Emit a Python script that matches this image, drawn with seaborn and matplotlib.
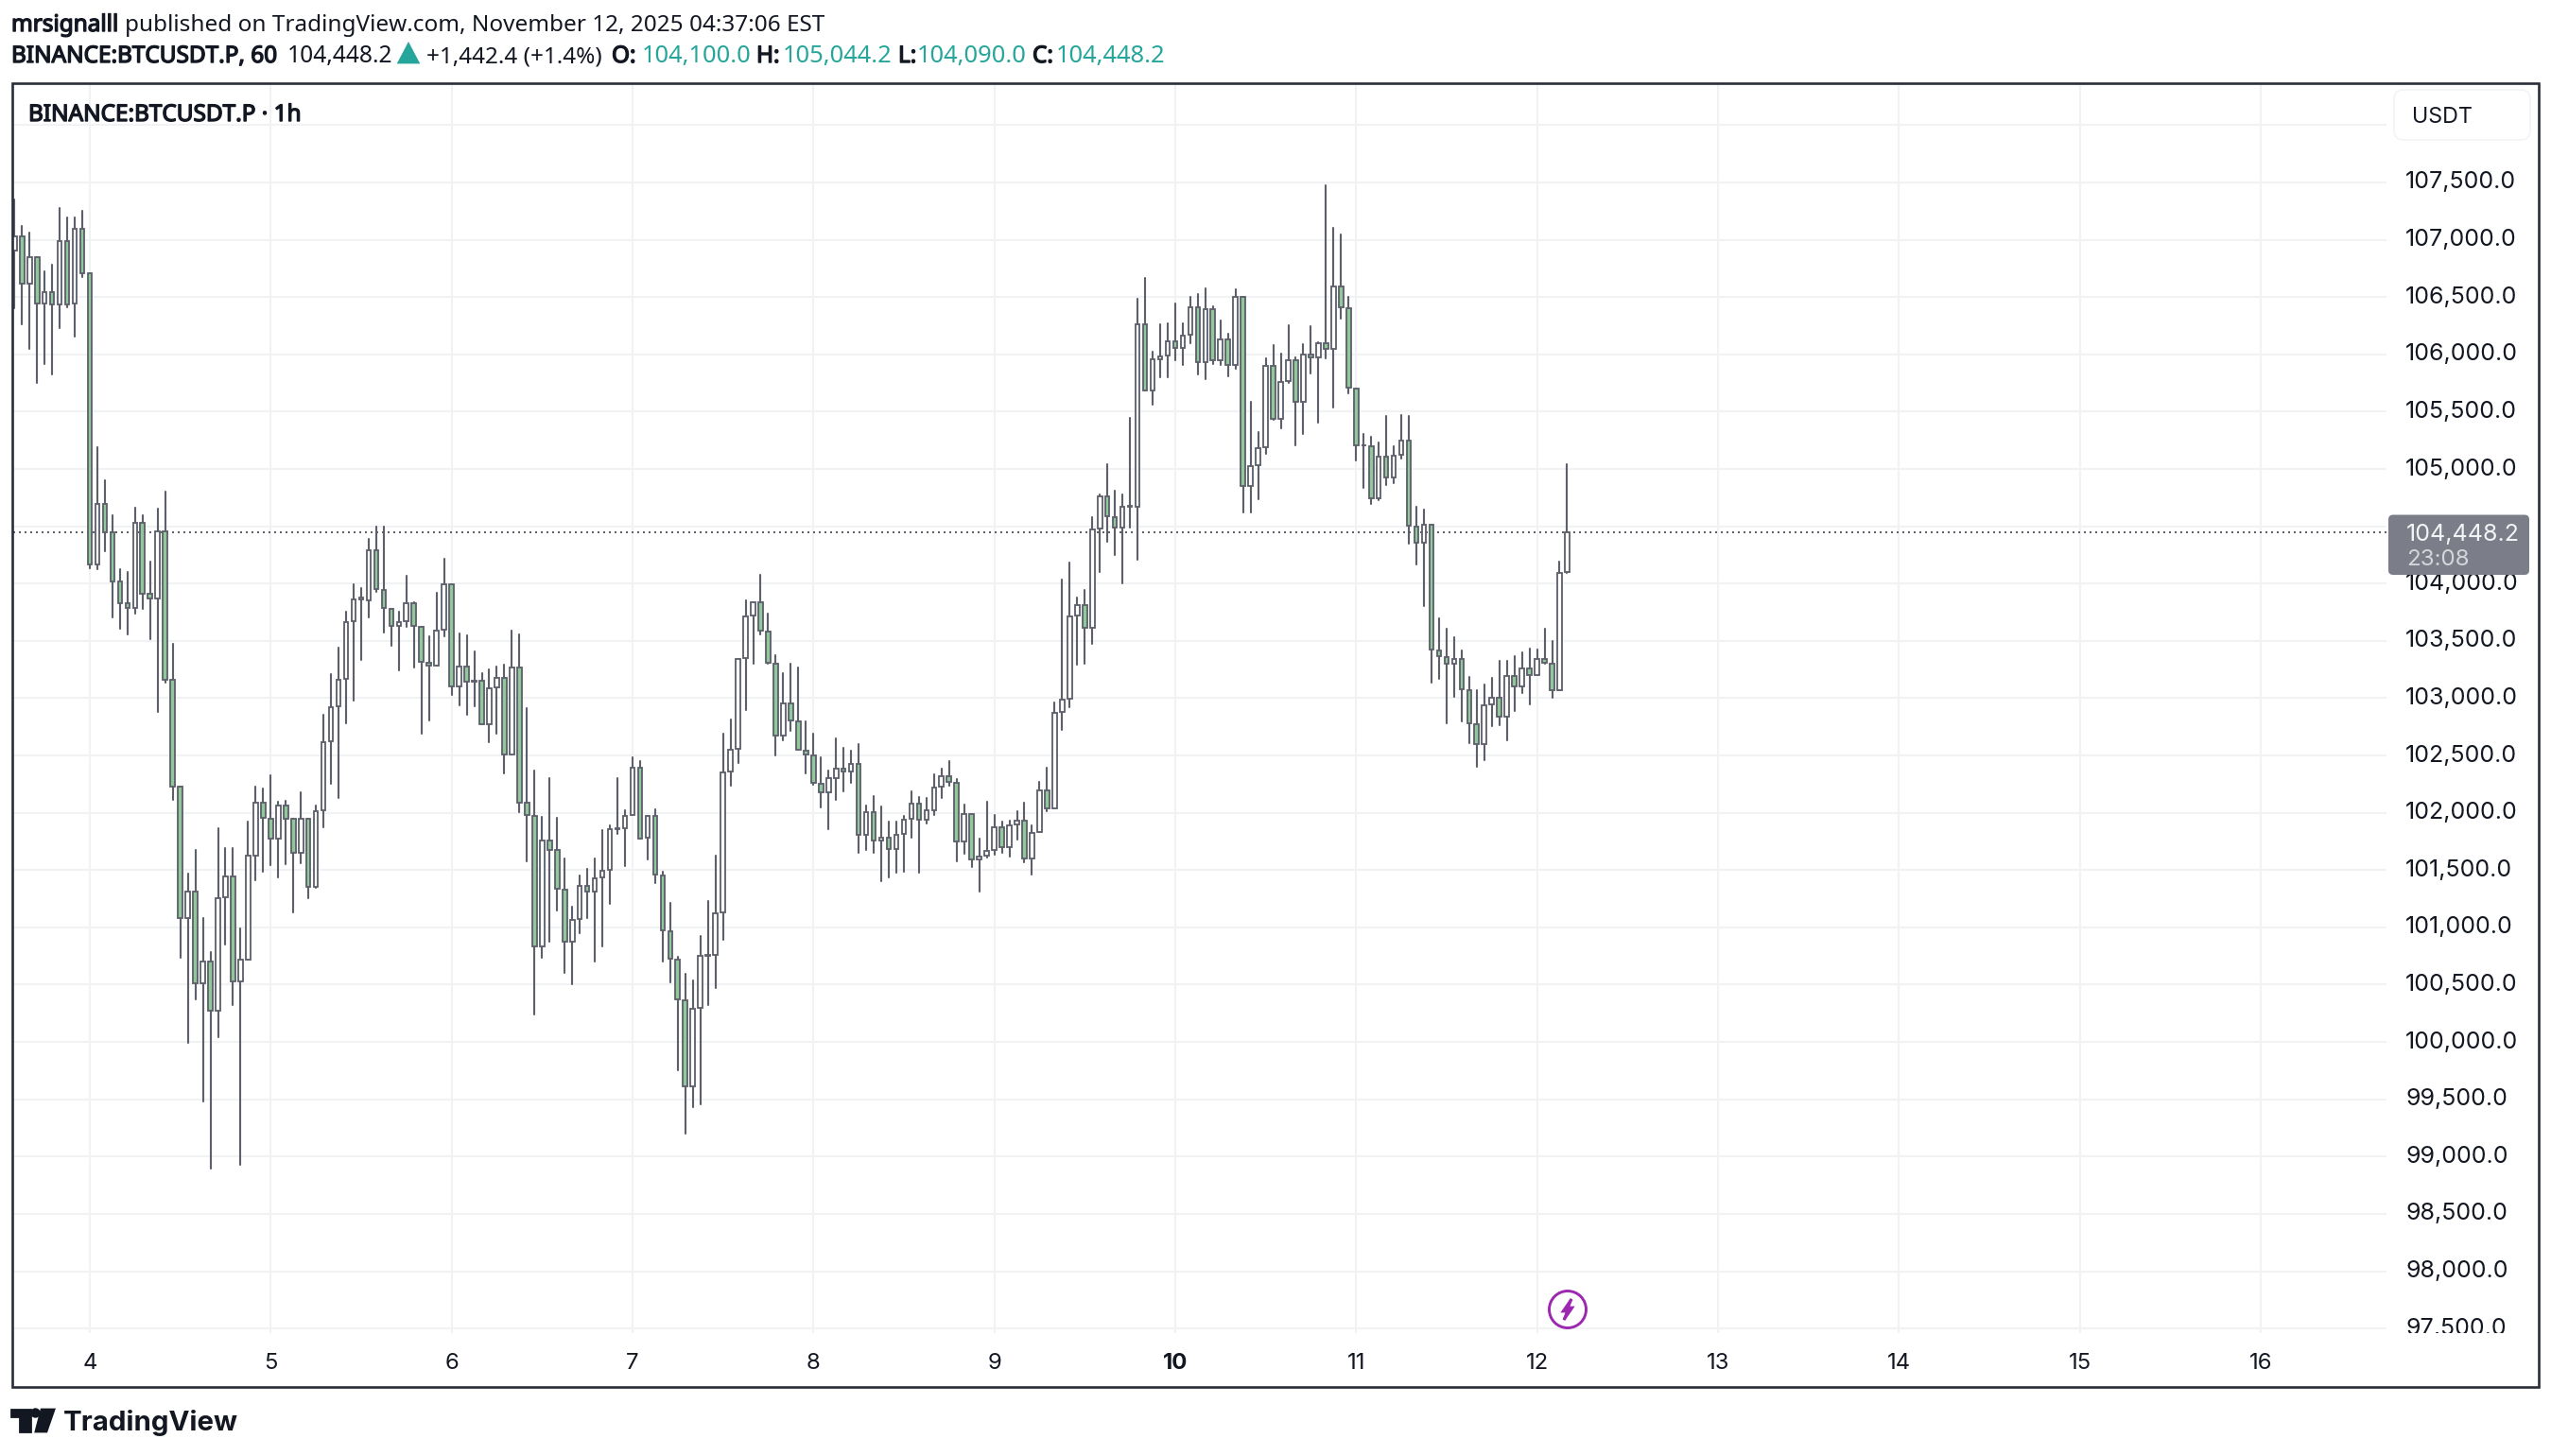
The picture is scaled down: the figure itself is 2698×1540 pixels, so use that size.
import matplotlib

matplotlib.use("Agg")

import matplotlib.patheffects as pe
import matplotlib.pyplot as plt
import numpy as np
import pandas as pd
import seaborn as sns
from matplotlib.patches import Circle, FancyBboxPatch, Polygon, Rectangle
from matplotlib.transforms import Affine2D, Bbox

# hourly candles, hour 0 = Nov 4 00:00
first_hour = -10
opens = [
    106906, 107030, 106617, 106851, 106444, 106543, 106436, 106988, 106444, 107098,
    106705, 104164, 104697, 104444, 104018, 103826, 103784, 104532, 103908, 103867,
    104458, 103158, 102225, 101079, 101315, 100512, 100704, 100270, 101260, 101447,
    100526, 100718, 101628, 102091, 101950, 101772, 102066, 101945, 101651, 101950,
    101351, 102019, 102621, 102926, 103166, 103669, 103864, 103850, 104293, 103944,
    103779, 103628, 103669, 103831, 103625, 103311, 103281, 103597, 103991, 103105,
    103273, 103147, 103150, 102775, 103091, 103179, 102506, 103270, 102085, 101975,
    100834, 101758, 101672, 101331, 100875, 101073, 101365, 101310, 101434, 101502,
    101860, 101865, 101980, 102396, 101783, 101975, 101455, 100968, 100721, 100366,
    99613, 100297, 100754, 100762, 101131, 102360, 102555, 103350, 103721, 103840,
    103584, 103303, 102671, 102954, 102800, 102544, 102503, 102255, 102176, 102300,
    102388, 102360, 102429, 101805, 102008, 101755, 101785, 101683, 101815, 101947,
    102079, 101942, 102025, 102225, 102322, 102264, 101750, 101992, 101593, 101626,
    101675, 101876, 101700, 101900, 101931, 101598, 101832, 102198, 102038, 102877,
    102995, 103718, 103812, 103614, 104477, 104764, 104582, 104486, 104673, 104670,
    106266, 105688, 105960, 105990, 106117, 106056, 106172, 106414, 105930, 106397,
    105949, 106134, 105908, 106505, 104849, 105031, 105193, 105903, 105435, 105765,
    105952, 105586, 106002, 105971, 106100, 106045, 106595, 106405, 105704, 105206,
    105201, 104742, 105110, 104926, 105121, 105250, 104500, 104354, 104517, 103419,
    103359, 103301, 103342, 103070, 102776, 102597, 102944, 103007, 102839, 103197,
    103103, 103262, 103202, 103345, 103304, 103070, 104100,
]
highs = [
    107351, 107117, 107062, 106851, 106722, 106782, 107277, 107195, 107195, 107250,
    106705, 105187, 104898, 104593, 104123, 104098, 104662, 104593, 104189, 104651,
    104799, 103471, 102225, 101466, 101672, 101079, 100787, 101865, 101695, 101695,
    100988, 101920, 102225, 102209, 102324, 102093, 102101, 101945, 102178, 101950,
    102060, 102855, 103207, 103438, 103752, 103991, 103958, 104387, 104494, 104494,
    103779, 103752, 104065, 103840, 103625, 103537, 103917, 104213, 103991, 103562,
    103545, 103405, 103221, 103248, 103276, 103290, 103587, 103554, 102910, 102365,
    101961, 102300, 101953, 101598, 101177, 101450, 101508, 101598, 101846, 101887,
    102305, 102024, 102484, 102451, 101975, 102030, 101483, 101213, 100746, 100592,
    100534, 100924, 101227, 101626, 102690, 102817, 103344, 103853, 103840, 104073,
    103735, 103372, 103215, 103298, 103265, 102795, 102687, 102484, 102366, 102652,
    102564, 102539, 102597, 102060, 102143, 102052, 101920, 101920, 101970, 102184,
    102134, 102126, 102333, 102382, 102448, 102291, 102069, 101992, 101772, 102093,
    101983, 101920, 101928, 102011, 102085, 101887, 102272, 102390, 102965, 104032,
    104181, 103881, 103944, 104577, 104780, 105039, 104808, 104775, 105443, 106485,
    106667, 106026, 106260, 106268, 106444, 106268, 106499, 106524, 106574, 106417,
    106293, 106178, 106565, 106505, 105584, 105320, 105963, 106079, 106007, 106255,
    105971, 106090, 106246, 106106, 107475, 107101, 107043, 106499, 105704, 105302,
    105278, 105228, 105459, 105195, 105468, 105459, 104668, 104643, 104517, 103694,
    103604, 103529, 103414, 103183, 103070, 103117, 103175, 103323, 103323, 103364,
    103397, 103430, 103422, 103604, 103496, 104189, 105044,
]
lows = [
    106402, 106265, 106045, 105751, 105916, 105825, 106232, 106411, 106155, 106672,
    104136, 104128, 104280, 103708, 103606, 103559, 103741, 103779, 103515, 102877,
    103138, 102115, 100732, 99990, 100374, 99484, 98895, 100045, 100850, 100320,
    98928, 100718, 101414, 101488, 101543, 101439, 101554, 101134, 101562, 101257,
    101343, 101876, 102250, 102126, 102784, 102982, 103336, 103707, 103930, 103575,
    103460, 103246, 103625, 103270, 102693, 102808, 103281, 103543, 103031, 102940,
    102858, 102932, 102775, 102618, 102693, 102341, 102506, 102008, 101579, 100243,
    100732, 100878, 101150, 100600, 100507, 100952, 101081, 100704, 100837, 101208,
    101818, 101538, 101980, 101772, 101596, 101386, 100704, 100523, 99756, 99203,
    99434, 99459, 100325, 100473, 100892, 102239, 102437, 102899, 103303, 103559,
    103300, 102498, 102629, 102712, 102547, 102346, 102245, 102044, 101859, 102115,
    102190, 102264, 101653, 101678, 101653, 101406, 101439, 101480, 101488, 101785,
    101480, 101909, 101983, 102126, 102239, 101579, 101645, 101530, 101310, 101606,
    101634, 101653, 101620, 101769, 101571, 101464, 101832, 102011, 102038, 102726,
    102924, 103295, 103303, 103474, 104103, 104368, 104253, 104005, 104492, 104211,
    105688, 105564, 105804, 105804, 105952, 105911, 106100, 105828, 105787, 105919,
    105911, 105812, 105878, 104624, 104624, 104739, 105133, 105430, 105358, 105754,
    105210, 105306, 105834, 105408, 105962, 105539, 106309, 105657, 105077, 104838,
    104692, 104725, 104863, 104879, 105094, 104352, 104170, 103807, 103139, 103172,
    102784, 103015, 102800, 102611, 102405, 102462, 102759, 102768, 102635, 102891,
    103048, 102949, 103202, 103298, 103007, 103070, 104090,
]
closes = [
    107030, 106617, 106851, 106444, 106543, 106436, 106988, 106436, 107098, 106705,
    104164, 104697, 104444, 104018, 103826, 103784, 104532, 103908, 103867, 104458,
    103158, 102225, 101079, 101315, 100512, 100704, 100275, 101257, 101447, 100526,
    100718, 101628, 102091, 101956, 101772, 102066, 101945, 101651, 101950, 101351,
    102016, 102616, 102924, 103163, 103666, 103864, 103875, 104293, 103950, 103785,
    103628, 103666, 103831, 103628, 103317, 103281, 103592, 103991, 103105, 103273,
    103147, 103150, 102775, 103086, 103179, 102506, 103270, 102085, 101978, 100834,
    101758, 101675, 101337, 100875, 101067, 101365, 101310, 101431, 101497, 101860,
    101865, 101975, 102396, 101777, 101975, 101461, 100974, 100724, 100369, 99613,
    100292, 100754, 100762, 101125, 102355, 102553, 103345, 103716, 103840, 103592,
    103306, 102676, 102954, 102805, 102547, 102511, 102258, 102176, 102300, 102388,
    102360, 102429, 101805, 102008, 101755, 101785, 101683, 101807, 101942, 102079,
    101942, 102025, 102223, 102322, 102267, 101750, 101992, 101593, 101620, 101667,
    101876, 101700, 101893, 101931, 101598, 101827, 102198, 102038, 102872, 102987,
    103716, 103812, 103614, 104472, 104763, 104588, 104486, 104673, 104679, 106266,
    105688, 105960, 105982, 106117, 106056, 106167, 106414, 105930, 106397, 105949,
    106134, 105908, 106505, 104849, 105028, 105185, 105903, 105435, 105762, 105952,
    105586, 106002, 105971, 106100, 106045, 106595, 106411, 105710, 105206, 105209,
    104742, 105110, 104926, 105118, 105250, 104505, 104354, 104517, 103422, 103364,
    103301, 103342, 103076, 102781, 102597, 102941, 103007, 102839, 103197, 103103,
    103262, 103202, 103345, 103307, 103070, 104096, 104448,
]

last_price = 104448.2
day_hours = [0, 24, 48, 72, 96, 120, 144, 168, 192, 216, 240, 264, 288]
day_labels = ["4", "5", "6", "7", "8", "9", "10", "11", "12", "13", "14", "15", "16"]
price_ticks = [
    108000, 107500, 107000, 106500, 106000, 105500, 105000, 104500, 104000, 103500, 103000,
    102500, 102000, 101500, 101000, 100500, 100000, 99500, 99000, 98500, 98000, 97500,
]
price_labels = [
    "", "107,500.0", "107,000.0", "106,500.0", "106,000.0", "105,500.0", "105,000.0",
    "104,500.0", "104,000.0", "103,500.0", "103,000.0", "102,500.0", "102,000.0",
    "101,500.0", "101,000.0", "100,500.0", "100,000.0", "99,500.0", "99,000.0",
    "98,500.0", "98,000.0", "97,500.0",
]

WIDTH, HEIGHT = 2698, 1540
EDGE = "#5d606b"
DOWN_FILL = "#90c79b"
TEAL = "#26a69a"
INK = "#131722"
GRID = "#f1f2f4"
HEAD_FONT = ["Noto Sans", "DejaVu Sans"]

sns.set_theme(style="white")
plt.rcParams["font.family"] = ["Inter", "DejaVu Sans"]
plt.rcParams["ytick.alignment"] = "center"

candles = pd.DataFrame({"open": opens, "high": highs, "low": lows, "close": closes})
candles["hour"] = np.arange(len(candles)) + first_hour
candles["body"] = (candles["close"] - candles["open"]).abs()
candles["body_low"] = candles[["open", "close"]].min(axis=1)
wicks = candles.melt(id_vars="hour", value_vars=["low", "high"], value_name="price")

fig = plt.figure(figsize=(WIDTH / 200, HEIGHT / 200), dpi=200, facecolor="white")
# pixel coordinates measured from the top left corner
px = Affine2D().scale(1 / WIDTH, -1 / HEIGHT).translate(0, 1) + fig.transFigure


def head_text(x, y, text, color=INK, size=8.76, strong=False):
    item = fig.text(x, y, text, transform=px, family=HEAD_FONT, fontsize=size, color=color, va="baseline")
    if strong:
        # Noto Sans only comes in one weight here
        item.set_path_effects([pe.withStroke(linewidth=0.5, foreground=color)])
    return item


pane_left, pane_right, pane_top, pane_bottom = 14, 2524, 88, 1410
ax = fig.add_axes([
    pane_left / WIDTH,
    1 - pane_bottom / HEIGHT,
    (pane_right - pane_left) / WIDTH,
    (pane_bottom - pane_top) / HEIGHT,
])
ax.set_axisbelow(True)
ax.grid(True, color=GRID, linewidth=0.75)
sns.despine(ax=ax, left=True, right=True, top=True, bottom=True)

sns.lineplot(
    data=wicks, x="hour", y="price", units="hour", estimator=None, sort=False,
    color=EDGE, linewidth=0.76, ax=ax, zorder=2,
)
for rising, fill in [(True, "white"), (False, DOWN_FILL)]:
    part = candles[(candles["close"] >= candles["open"]) == rising]
    sns.barplot(
        data=part, x="hour", y="body", native_scale=True, bottom=part["body_low"].to_numpy(),
        width=0.58, color=fill, saturation=1, edgecolor=EDGE, linewidth=0.66,
        errorbar=None, ax=ax, zorder=3,
    )

ax.axhline(last_price, color=EDGE, linewidth=0.72, linestyle=(0, (1, 2)), zorder=1)

ax.set_xlim(-10.16, 304.7)
ax.set_ylim(97460, 108366)
ax.set_xlabel("")
ax.set_ylabel("")
ax.set_xticks(day_hours, day_labels)
ax.yaxis.tick_right()
ax.set_yticks(price_ticks, price_labels)
ax.tick_params(axis="x", length=0, pad=7.5, labelsize=8.6, labelcolor=INK)
ax.tick_params(axis="y", length=0, pad=7.2, labelsize=9.0, labelcolor=INK)
ax.get_xticklabels()[day_labels.index("10")].set_fontweight("bold")
price_clip = Bbox([[2500, HEIGHT - pane_bottom], [2698, HEIGHT - pane_top]])
for label in ax.get_yticklabels():
    label.set_clip_box(price_clip)
    label.set_clip_on(True)

# outer frame
fig.add_artist(Rectangle((13, 88), 2672, 1379, fill=False, edgecolor="#2a2e39", linewidth=0.95, transform=px))

# header lines
head_text(12, 33, "mrsignalll", strong=True)
head_text(132, 33, "published on TradingView.com, November 12, 2025 04:37:06 EST")
head_text(12, 66, "BINANCE:BTCUSDT.P, 60", strong=True)
head_text(304, 66, "104,448.2", size=8.85)
fig.add_artist(Polygon([(422, 66), (442, 66), (432, 47)], closed=True, color=TEAL, transform=px))
head_text(451, 66, "+1,442.4 (+1.4%)")
ohlc_parts = [
    (647, "O:", 679, "104,100.0"),
    (800, "H:", 828, "105,044.2"),
    (950, "L:", 970, "104,090.0"),
    (1092, "C:", 1117, "104,448.2"),
]
for key_x, key, value_x, value in ohlc_parts:
    head_text(key_x, 66, key, strong=True)
    head_text(value_x, 66, value, color=TEAL, size=9.2)

head_text(30, 128, "BINANCE:BTCUSDT.P · 1h", strong=True)

# currency button
fig.add_artist(FancyBboxPatch((2538, 101), 132, 41, boxstyle="round,pad=6,rounding_size=10",
                              facecolor="white", edgecolor="#f0f1f4", linewidth=0.5, transform=px))
fig.text(2551, 122, "USDT", transform=px, fontsize=8.4, color=INK, va="center_baseline")

# last price tag, sits on top of the price scale
fig.add_artist(FancyBboxPatch((2529, 547.5), 143, 57.5, boxstyle="round,pad=3,rounding_size=5",
                              facecolor="#7b7e89", edgecolor="none", transform=px, zorder=5))
fig.text(2545, 563, "104,448.2", transform=px, fontsize=9.0, color="#f2f3f5", va="center_baseline", zorder=6)
fig.text(2545, 590, "23:08", transform=px, fontsize=8.7, color="#d5d6da", va="center_baseline", zorder=6)

# lightning marker
fig.add_artist(Circle((1658, 1385), 19.5, fill=True, facecolor="white", edgecolor="#9c27b0", linewidth=1.05, transform=px, zorder=4))
bolt = [(1662, 1374), (1653, 1387), (1657.5, 1387), (1654, 1396), (1663, 1383), (1658.5, 1383)]
fig.add_artist(Polygon(bolt, closed=True, color="#9c27b0", transform=px, zorder=5))

# logo
logo_t = [(12, 1491), (32, 1491), (32, 1514), (21, 1514), (21, 1498), (12, 1498)]
logo_slash = [(44, 1491), (57, 1491), (49, 1514), (38, 1514)]
fig.add_artist(Polygon(logo_t, closed=True, color=INK, transform=px))
fig.add_artist(Polygon(logo_slash, closed=True, color=INK, transform=px))
fig.add_artist(Circle((37.5, 1494.5), 3.8, color=INK, transform=px))
fig.text(67, 1513, "TradingView", transform=px, fontsize=10.6, fontweight="bold", color=INK, va="baseline")

fig.savefig("out.png", dpi=200, facecolor="white")
